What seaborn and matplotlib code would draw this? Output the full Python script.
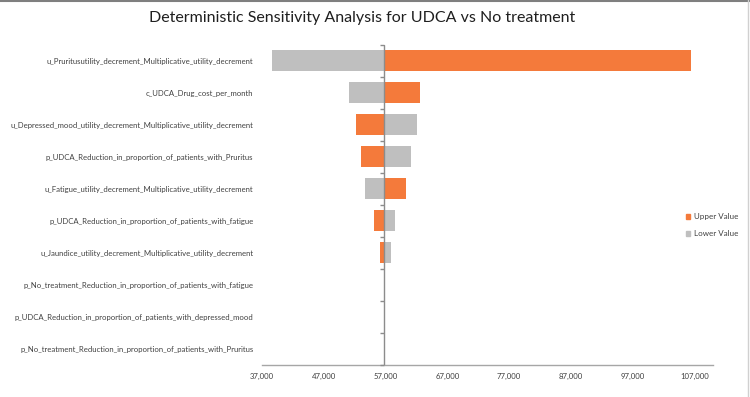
import numpy as np
import pandas as pd
import matplotlib
matplotlib.use("Agg")
import matplotlib.pyplot as plt
import seaborn as sns
from matplotlib.lines import Line2D
from matplotlib.patches import Patch

# data
params = [
    "u_Pruritusutility_decrement_Multiplicative_utility_decrement",
    "c_UDCA_Drug_cost_per_month",
    "u_Depressed_mood_utility_decrement_Multiplicative_utility_decrement",
    "p_UDCA_Reduction_in_proportion_of_patients_with_Pruritus",
    "u_Fatigue_utility_decrement_Multiplicative_utility_decrement",
    "p_UDCA_Reduction_in_proportion_of_patients_with_fatigue",
    "u_Jaundice_utility_decrement_Multiplicative_utility_decrement",
    "p_No_treatment_Reduction_in_proportion_of_patients_with_fatigue",
    "p_UDCA_Reduction_in_proportion_of_patients_with_depressed_mood",
    "p_No_treatment_Reduction_in_proportion_of_patients_with_Pruritus",
]
base_value = 56800
upper_values = [106470, 62530, 52280, 52990, 60310, 55190, 56110, 56800, 56800, 56800]
lower_values = [38660, 51060, 62090, 61170, 53640, 58540, 57890, 56800, 56800, 56800]
xticks = [37000, 47000, 57000, 67000, 77000, 87000, 97000, 107000]

orange = "#F47A3B"
grey = "#BFBFBF"

df = pd.DataFrame({
    "param": params * 2,
    "kind": ["Upper Value"] * len(params) + ["Lower Value"] * len(params),
    "value": upper_values + lower_values,
})
df["delta"] = df["value"] - base_value

sns.set_style("white")
plt.rcParams["font.family"] = ["Lato", "DejaVu Sans"]

fig = plt.figure(figsize=(7.5, 3.97), dpi=100)
ax = fig.add_axes([0.349, 0.081, 0.602, 0.806])

sns.barplot(data=df, y="param", x="delta", hue="kind", order=params,
            hue_order=["Upper Value", "Lower Value"],
            palette={"Upper Value": orange, "Lower Value": grey},
            saturation=1, dodge=False, width=0.66, left=base_value, ax=ax,
            legend=False, linewidth=0)

ax.set_xlim(37000, 110000)
ax.set_ylim(len(params) - 0.5, -0.5)
ax.set_xticks(xticks)
ax.set_xticklabels([f"{t:,}" for t in xticks], fontsize=5.6, color="#404040")
ax.tick_params(axis="x", length=3, color="#A6A6A6", pad=3)
ax.tick_params(axis="y", length=0, labelsize=5.6, labelcolor="#404040", pad=6)
ax.set_xlabel("")
ax.set_ylabel("")

for s in ["top", "right", "left"]:
    ax.spines[s].set_visible(False)
ax.spines["bottom"].set_color("#A6A6A6")
ax.spines["bottom"].set_linewidth(1)

# category axis crossing at the base value
ax.axvline(base_value, color="#8C8C8C", lw=1, zorder=3)
bounds = np.arange(len(params) + 1) - 0.5
ax.plot(np.full(len(bounds), base_value), bounds, ls="none", marker=0,
        ms=3, color="#8C8C8C", zorder=3, clip_on=False)

handles = [Patch(color=orange, label="Upper Value"),
           Patch(color=grey, label="Lower Value")]
fig.legend(handles=handles, loc="center left", bbox_to_anchor=(0.905, 0.433),
           frameon=False, fontsize=5.8, handlelength=0.55, handleheight=0.55,
           handletextpad=0.4, labelspacing=1.25, labelcolor="#404040")

fig.suptitle("Deterministic Sensitivity Analysis for UDCA vs No treatment",
             x=0.483, y=0.972, fontsize=11.5, color="#1F1F1F")

# chart border bits
fig.add_artist(Line2D([0, 1], [0.998, 0.998], color="#7F7F7F", lw=1.5,
                      transform=fig.transFigure))
fig.add_artist(Line2D([0.997, 0.997], [0, 1], color="#D0D0D0", lw=1,
                      transform=fig.transFigure))

fig.savefig("out.png", dpi=100)
